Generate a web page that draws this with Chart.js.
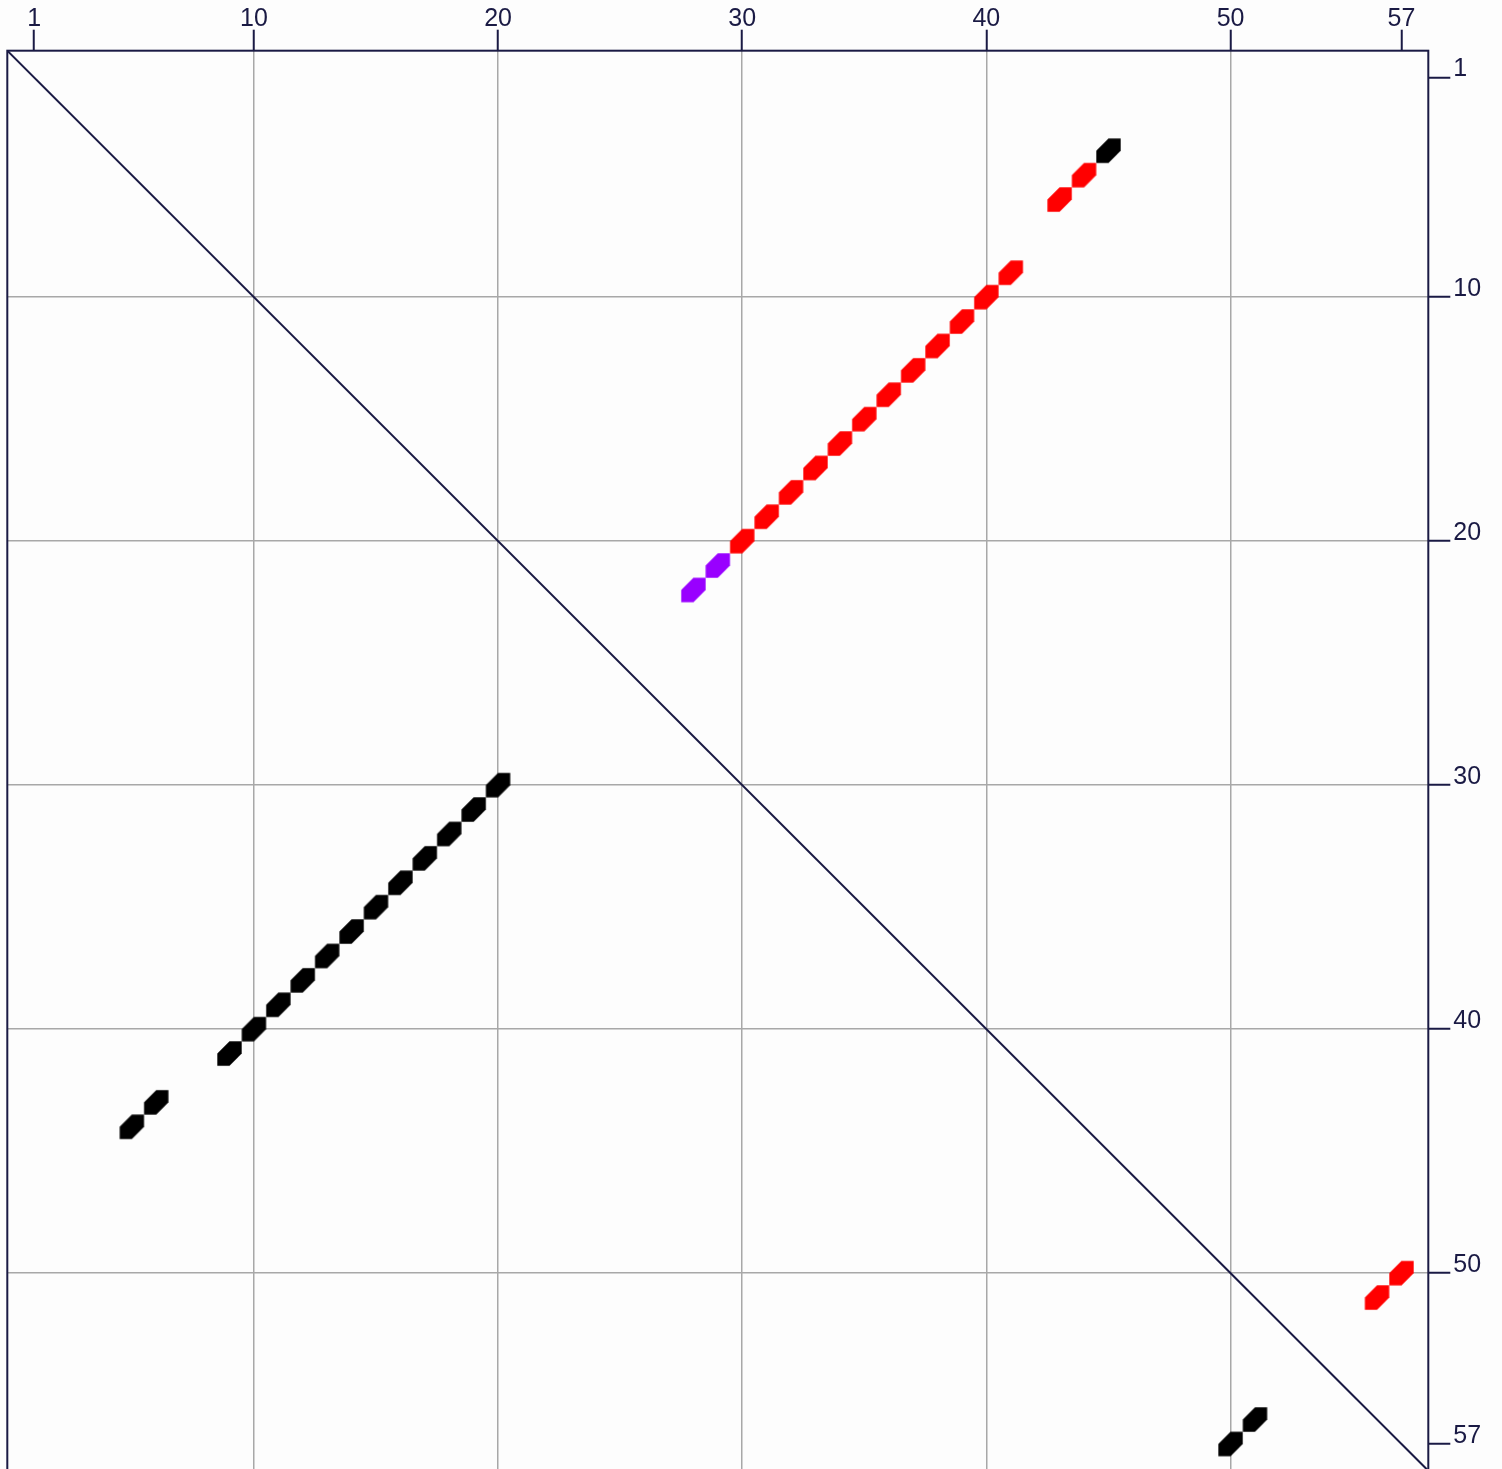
<!DOCTYPE html>
<html>
<head>
<meta charset="utf-8">
<script src="https://cdn.jsdelivr.net/npm/chart.js@4.4.1/dist/chart.umd.min.js"></script>
<style>
  html, body { margin: 0; padding: 0; background: #fdfdfd; overflow: hidden; }
  #wrap { position: relative; width: 1502px; height: 1480px; }
</style>
</head>
<body>
<div id="wrap"><canvas id="dotPlot"></canvas></div>
<script>
// Tick labels (same on both axes)
const tickValues = [1, 10, 20, 30, 40, 50, 57];
const gridValues = [10, 20, 30, 40, 50];
const axisMin = -0.1;
const axisMax = 58.1;

// Upper triangle base pairs (column i, row j)
const redI = [30, 31, 32, 33, 34, 35, 36, 37, 38, 39, 40, 41, 43, 44, 56, 57];
const redJ = [20, 19, 18, 17, 16, 15, 14, 13, 12, 11, 10, 9, 6, 5, 51, 50];
const purpleI = [28, 29];
const purpleJ = [22, 21];
const blackUpI = [45];
const blackUpJ = [4];

// Lower triangle base pairs
const blackLowI = [5, 6, 9, 10, 11, 12, 13, 14, 15, 16, 17, 18, 19, 20, 50, 51];
const blackLowJ = [44, 43, 41, 40, 39, 38, 37, 36, 35, 34, 33, 32, 31, 30, 57, 56];

const navy = '#1a1a44';
const gridGray = '#a8a8a8';

const toPoints = (xs, ys) => xs.map((x, k) => ({ x: x, y: ys[k] }));

// Hexagon mark: one cell with the top-left and bottom-right corners cut
const hexCache = {};
function hexMark(color, cell) {
  const key = color + '_' + cell.toFixed(2);
  if (hexCache[key]) return hexCache[key];
  const size = Math.ceil(cell) + 2;
  const c = document.createElement('canvas');
  c.width = size;
  c.height = size;
  const g = c.getContext('2d');
  const m = size / 2;
  const h = cell / 2;
  g.fillStyle = color;
  g.beginPath();
  g.moveTo(m, m - h);
  g.lineTo(m + h, m - h);
  g.lineTo(m + h, m);
  g.lineTo(m, m + h);
  g.lineTo(m - h, m + h);
  g.lineTo(m - h, m);
  g.closePath();
  g.fill();
  hexCache[key] = c;
  return c;
}

function markStyle(color) {
  return (ctx) => {
    const sx = ctx.chart.scales.x;
    const cell = Math.abs(sx.getPixelForValue(1) - sx.getPixelForValue(0));
    return hexMark(color, cell);
  };
}

function markSet(xs, ys, color) {
  return {
    data: toPoints(xs, ys),
    pointStyle: markStyle(color),
    pointRadius: 12,
    backgroundColor: color,
    borderColor: color,
    showLine: false
  };
}

// Frame round the plot area
const framePlugin = {
  id: 'frame',
  afterDraw(chart) {
    const a = chart.chartArea;
    const g = chart.ctx;
    g.save();
    g.strokeStyle = navy;
    g.lineWidth = 2;
    g.strokeRect(a.left, a.top, a.right - a.left, a.bottom - a.top);
    g.restore();
  }
};

const tickFont = { family: '"Liberation Sans", Arial, sans-serif', size: 25, lineHeight: 1 };

const ctx = document.getElementById('dotPlot').getContext('2d');
new Chart(ctx, {
  type: 'scatter',
  data: {
    datasets: [
      {
        type: 'line',
        data: [{ x: axisMin, y: axisMin }, { x: axisMax, y: axisMax }],
        borderColor: navy,
        borderWidth: 2,
        pointRadius: 0,
        fill: false
      },
      markSet(redI, redJ, '#ff0000'),
      markSet(purpleI, purpleJ, '#9900ff'),
      markSet(blackUpI, blackUpJ, '#000000'),
      markSet(blackLowI, blackLowJ, '#000000')
    ]
  },
  options: {
    responsive: true,
    maintainAspectRatio: false,
    animation: false,
    events: [],
    layout: { autoPadding: false, padding: { left: 7.3, top: 0, right: 0, bottom: 9.2 } },
    plugins: {
      legend: { display: false },
      tooltip: { enabled: false }
    },
    scales: {
      x: {
        type: 'linear',
        position: 'top',
        min: axisMin,
        max: axisMax,
        afterBuildTicks: (scale) => { scale.ticks = tickValues.map(v => ({ value: v })); },
        afterFit: (scale) => {
          scale.height = 50.7;
          scale.paddingLeft = 0;
          scale.paddingRight = 0;
        },
        border: { display: false },
        grid: {
          color: (c) => gridValues.includes(c.tick && c.tick.value) ? gridGray : 'rgba(0,0,0,0)',
          lineWidth: 1.5,
          tickColor: navy,
          tickWidth: 2,
          tickLength: 21
        },
        ticks: {
          color: navy,
          font: tickFont,
          padding: -2,
          maxRotation: 0,
          autoSkip: false,
          callback: (v) => String(v)
        }
      },
      y: {
        type: 'linear',
        position: 'right',
        reverse: true,
        min: axisMin,
        max: axisMax,
        afterBuildTicks: (scale) => { scale.ticks = tickValues.map(v => ({ value: v })); },
        afterFit: (scale) => {
          scale.width = 73.7;
          scale.paddingTop = 0;
          scale.paddingBottom = 0;
        },
        border: { display: false },
        grid: {
          color: (c) => gridValues.includes(c.tick && c.tick.value) ? gridGray : 'rgba(0,0,0,0)',
          lineWidth: 1.5,
          tickColor: navy,
          tickWidth: 2,
          tickLength: 22
        },
        ticks: {
          color: navy,
          font: tickFont,
          padding: 3,
          labelOffset: -8,
          autoSkip: false,
          callback: (v) => String(v)
        }
      }
    }
  },
  plugins: [framePlugin]
});
</script>
</body>
</html>
